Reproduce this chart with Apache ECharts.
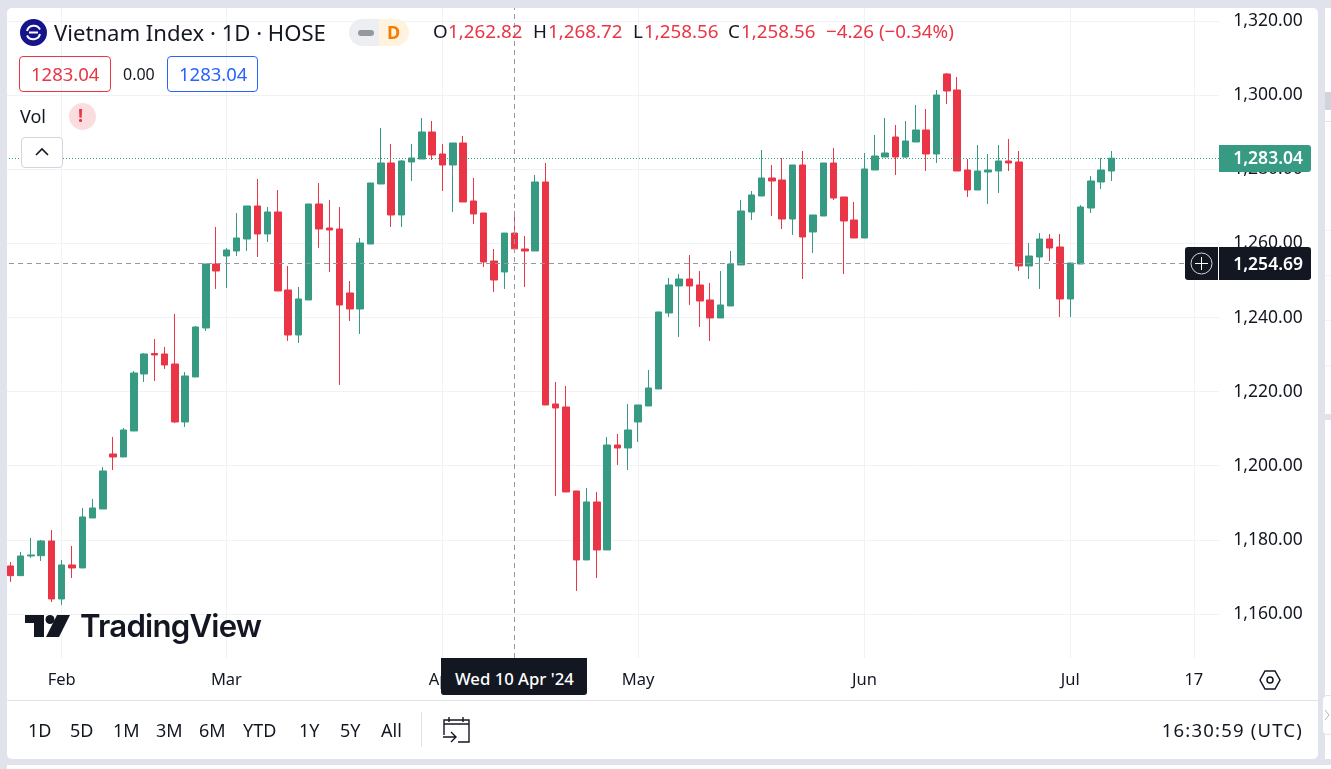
<!DOCTYPE html>
<html lang="en">
<head>
    <meta charset="UTF-8">
    <title>Vietnam Index 1D HOSE</title>
    <script src="https://cdn.jsdelivr.net/npm/echarts@6/dist/echarts.min.js"></script>
    <style>
        html, body { margin: 0; padding: 0; width: 1331px; height: 769px; overflow: hidden; background: #e0e3eb; }
        body { font-family: "Noto Sans", sans-serif; color: #131722; position: relative; }
        #panel { position: absolute; left: 7px; top: 8px; width: 1311px; height: 751px; background: #fff; border-radius: 5px; }
        #side { position: absolute; left: 1325px; top: 8px; width: 6px; height: 751px; background: #fff; }
        #bottom { position: absolute; left: 7px; top: 765px; width: 1324px; height: 4px; background: #fff; }
        #myChart { position: absolute; left: 0; top: 0; width: 1331px; height: 769px; }
        .box { position: absolute; box-sizing: border-box; }
        .t { position: absolute; white-space: nowrap; line-height: 1; }
        .red { color: #ea3546; }
    </style>
</head>
<body>
    <div id="panel"></div>
    <div id="side"></div>
    <div id="bottom"></div>
    <div class="box" style="left:1325px;top:92px;width:6px;height:18px;background:#d1d4dc"></div>
    <div class="box" style="left:1325px;top:121px;width:6px;height:1px;background:#e0e3eb"></div>
    <div class="box" style="left:1325px;top:230px;width:6px;height:1px;background:#f0f3fa"></div>
    <div class="box" style="left:1325px;top:275px;width:6px;height:1px;background:#f0f3fa"></div>
    <div class="box" style="left:1325px;top:320px;width:6px;height:1px;background:#f0f3fa"></div>
    <div class="box" style="left:1325px;top:365px;width:6px;height:1px;background:#f0f3fa"></div>
    <div class="box" style="left:1325px;top:414px;width:6px;height:6px;background:#e0e3eb"></div>

    <div id="myChart"></div>

    <!-- covers for the pane edges -->
    <div class="box" style="left:0;top:0;width:7px;height:769px;background:#e0e3eb"></div>
    <div class="box" style="left:1219px;top:8px;width:7px;height:650px;background:#fff"></div>

    <!-- legend -->
    <svg class="box" style="left:20px;top:19px" width="27" height="27" viewBox="0 0 27 27">
        <circle cx="13.5" cy="13.5" r="13.5" fill="#14148c"/>
        <path d="M7 12 A7 7 0 0 1 20 10.5 M20 15 A7 7 0 0 1 7 16.5" fill="none" stroke="#fff" stroke-width="2"/>
        <path d="M9 13.5 H18" stroke="#fff" stroke-width="2"/>
    </svg>
    <div class="t" id="title" style="left:54px;top:21px;font-size:22.1px">Vietnam Index · 1D · HOSE</div>
    <div class="box" style="left:349px;top:19px;width:30px;height:27px;background:#eceef2;border-radius:14px 0 0 14px"></div>
    <div class="box" style="left:379px;top:19px;width:30px;height:27px;background:#fff3e0;border-radius:0 14px 14px 0"></div>
    <div class="box" style="left:358px;top:30px;width:16px;height:6px;background:#9598a1;border-radius:3px"></div>
    <div class="t" style="left:387px;top:23px;font-size:18px;font-weight:700;color:#f57c00">D</div>

    <div class="t" style="left:433px;top:22px;font-size:18.8px">O</div>
    <div class="t red" style="left:448px;top:22px;font-size:18.8px">1,262.82</div>
    <div class="t" style="left:533px;top:22px;font-size:18.8px">H</div>
    <div class="t red" style="left:548px;top:22px;font-size:18.8px">1,268.72</div>
    <div class="t" style="left:633px;top:22px;font-size:18.8px">L</div>
    <div class="t red" style="left:644px;top:22px;font-size:18.8px">1,258.56</div>
    <div class="t" style="left:728px;top:22px;font-size:18.8px">C</div>
    <div class="t red" style="left:741px;top:22px;font-size:18.8px">1,258.56</div>
    <div class="t red" style="left:826px;top:22px;font-size:18.8px">−4.26 (−0.34%)</div>

    <div class="box" style="left:19px;top:56px;width:92px;height:36px;border:1px solid #ea3546;border-radius:4px"></div>
    <div class="t red" style="left:31px;top:65px;font-size:18.5px">1283.04</div>
    <div class="t" style="left:123px;top:66px;font-size:16px">0.00</div>
    <div class="box" style="left:167px;top:56px;width:91px;height:36px;border:1px solid #2962ff;border-radius:4px"></div>
    <div class="t" style="left:179px;top:65px;font-size:18.5px;color:#2962ff">1283.04</div>

    <div class="t" style="left:20px;top:107px;font-size:18px">Vol</div>
    <div class="box" style="left:69px;top:103px;width:27px;height:27px;background:#fbdde0;border-radius:50%"></div>
    <div class="t" style="left:78px;top:106px;font-size:18px;font-weight:700;color:#ea3546">!</div>
    <div class="box" style="left:21px;top:137px;width:42px;height:31px;background:#fff;border:1px solid #d1d4dc;border-radius:4px"></div>
    <svg class="box" style="left:35px;top:147px" width="14" height="10"><path d="M1 8 L7 2 L13 8" fill="none" stroke="#131722" stroke-width="1.6"/></svg>

    <!-- price tags -->
    <div class="box" style="left:1219px;top:145px;width:92px;height:27px;background:#369b82;border-radius:0 3px 3px 0"></div>
    <div class="t" style="right:28px;top:149px;font-size:17.5px;font-weight:600;color:#fff">1,283.04</div>
    <div class="box" style="left:1185px;top:247px;width:126px;height:33px;background:#131722;border-radius:3px"></div>
    <div class="box" style="left:1218px;top:247px;width:1px;height:33px;background:#fff"></div>
    <div class="t" style="right:28px;top:255px;font-size:17.5px;font-weight:600;color:#fff">1,254.69</div>
    <svg class="box" style="left:1190px;top:252px" width="23" height="23"><circle cx="11.5" cy="11.5" r="10.5" fill="none" stroke="#d1d4dc"/><path d="M5 11.5 H18 M11.5 5 V18" stroke="#fff"/></svg>

    <!-- watermark -->
    <svg class="box" style="left:24px;top:614px" width="48" height="24" viewBox="0 0 48 24">
        <path d="M1 1 H20 V23 H10 V9 H1 Z" fill="#131722"/>
        <circle cx="26" cy="5.5" r="4.5" fill="#131722"/>
        <path d="M33 1 H46 L35 23 H22 Z" fill="#131722"/>
    </svg>
    <div class="t" id="wm" style="left:80px;top:611px;font-family:Inter,sans-serif;font-size:31.2px;font-weight:600;letter-spacing:-0.8px">TradingView</div>

    <!-- time axis extras -->
    <div class="box" style="left:441px;top:658px;width:146px;height:37px;background:#131722;border-radius:0 0 3px 3px"></div>
    <div class="t" style="left:455px;top:671px;font-size:16.7px;font-weight:500;color:#fff">Wed 10 Apr '24</div>
    <svg class="box" style="left:1258px;top:669px" width="24" height="22"><path d="M2 11 L7 2 H17 L22 11 L17 20 H7 Z" fill="none" stroke="#131722" stroke-width="1.5"/><circle cx="12" cy="11" r="3" fill="none" stroke="#131722" stroke-width="1.5"/></svg>

    <!-- bottom toolbar -->
    <div class="box" style="left:7px;top:700px;width:1311px;height:1px;background:#e0e3eb"></div>
    <div class="t" style="left:28px;top:721px;font-size:18px">1D</div>
    <div class="t" style="left:70px;top:721px;font-size:18px">5D</div>
    <div class="t" style="left:113px;top:721px;font-size:18px">1M</div>
    <div class="t" style="left:156px;top:721px;font-size:18px">3M</div>
    <div class="t" style="left:199px;top:721px;font-size:18px">6M</div>
    <div class="t" style="left:243px;top:721px;font-size:18px">YTD</div>
    <div class="t" style="left:299px;top:721px;font-size:18px">1Y</div>
    <div class="t" style="left:340px;top:721px;font-size:18px">5Y</div>
    <div class="t" style="left:381px;top:721px;font-size:18px">All</div>
    <div class="box" style="left:421px;top:712px;width:1px;height:35px;background:#e0e3eb"></div>
    <svg class="box" style="left:441px;top:715px" width="30" height="30"><path d="M3 9 H28 M8 2 V7 M22 2 V7 M3 20 V5 H28 V27 H17 M2 22 H14 M10 17 L15 22 L10 27" fill="none" stroke="#131722" stroke-width="1.4"/></svg>
    <div class="t" style="right:28px;top:721px;font-size:18.5px;letter-spacing:1.2px">16:30:59 (UTC)</div>
    <div class="box" style="left:1322px;top:695px;width:12px;height:40px;background:#fff;border:1px solid #e0e3eb;border-radius:5px"></div>
    <svg class="box" style="left:1324px;top:709px" width="7" height="12"><path d="M1 1 L5 6 L1 11" fill="none" stroke="#b2b5be"/></svg>

    <script>
        // trading days, the first and the last eleven have no candle
        var dates = ['01-24','01-25','01-26','01-29','01-30','01-31',
            '02-01','02-02','02-05','02-06','02-07','02-15','02-16','02-19','02-20','02-21','02-22','02-23','02-26','02-27','02-28','02-29',
            '03-01','03-04','03-05','03-06','03-07','03-08','03-11','03-12','03-13','03-14','03-15','03-18','03-19','03-20','03-21','03-22','03-25','03-26','03-27','03-28','03-29',
            '04-01','04-02','04-03','04-04','04-05','04-08','04-09','04-10','04-11','04-12','04-15','04-16','04-17','04-19','04-22','04-23','04-24','04-25','04-26',
            '05-02','05-03','05-06','05-07','05-08','05-09','05-10','05-13','05-14','05-15','05-16','05-17','05-20','05-21','05-22','05-23','05-24','05-27','05-28','05-29','05-30','05-31',
            '06-03','06-04','06-05','06-06','06-07','06-10','06-11','06-12','06-13','06-14','06-17','06-18','06-19','06-20','06-21','06-24','06-25','06-26','06-27','06-28',
            '07-01','07-02','07-03','07-04','07-05','07-08','07-09','07-10','07-11','07-12','07-15','07-16','07-17','07-18','07-19','07-22'];

        var opens = [1172.93,1170.31,1175.63,1175.71,1179.68,1164.02,1173.2,1172.39,1185.89,1188.32,1203.17,1202.36,1209.38,1224.77,1230.3,1230.17,1227.47,1211.81,1223.96,1237.19,
            1254.47,1256.63,1257.98,1261.22,1270.13,1262.57,1268.51,1247.45,1235.3,1244.75,1270.67,1264.19,1263.92,1246.64,1242.32,1259.87,1276.07,1281.74,1267.7,1282.01,
            1282.82,1290.11,1284.17,1281.2,1287.14,1271.48,1268.24,1255.28,1252.31,1262.82,1258.52,1257.98,1276.61,1216.67,1215.86,1193.18,1174.55,1190.21,1177.25,1205.6,
            1204.79,1211.81,1216.13,1220.72,1241.24,1248.53,1250.42,1248.8,1244.75,1239.89,1243.13,1254.2,1268.51,1272.83,1277.69,1277.15,1266.62,1281.2,1263.11,1267.43,
            1281.74,1272.56,1266.35,1261.49,1279.85,1283.36,1288.76,1283.36,1287.41,1290.65,1284.17,1305.77,1301.45,1279.85,1274.45,1279.31,1279.58,1282.28,1282.01,1253.93,
            1256.36,1261.22,1259.06,1245.02,1254.47,1269.59,1276.61,1279.58];
        var closes = [1170.31,1175.63,1175.9,1179.68,1164.02,1173.2,1172.39,1186.16,1188.59,1198.58,1202.36,1209.65,1225.04,1230.17,1229.9,1227.2,1211.81,1224.23,1237.46,1254.47,
            1252.58,1258.25,1261.49,1270.13,1262.57,1268.51,1247.18,1235.3,1245.02,1270.67,1263.92,1263.65,1243.4,1242.32,1260.14,1276.34,1281.74,1267.7,1282.28,1283.09,
            1290.11,1283.9,1281.2,1287.14,1271.21,1267.97,1255.01,1250.15,1262.82,1258.56,1257.98,1276.61,1216.4,1215.59,1192.91,1174.55,1190.21,1177.25,1205.6,1204.79,
            1209.65,1216.4,1220.99,1241.51,1248.8,1250.42,1248.53,1244.48,1239.89,1243.4,1254.47,1268.78,1273.1,1277.69,1276.88,1266.62,1281.2,1261.76,1267.7,1281.74,
            1272.29,1266.08,1261.49,1280.12,1283.63,1284.44,1283.36,1287.68,1290.65,1284.17,1300.1,1301.18,1279.58,1274.45,1279.58,1279.85,1282.28,1281.74,1253.93,1256.63,
            1261.22,1258.79,1245.02,1254.74,1269.86,1276.88,1279.85,1283.04];
        var lows = [1168.61,1170.31,1175.09,1174.28,1163.21,1162.4,1169.69,1172.39,1185.89,1188.32,1198.85,1202.36,1209.38,1222.61,1222.88,1226.12,1211.54,1210.46,1223.96,1236.38,
            1247.72,1247.99,1256.63,1257.98,1256.36,1260.41,1247.18,1233.68,1233.14,1244.75,1258.79,1252.31,1221.8,1239.08,1235.57,1259.87,1276.07,1264.46,1264.46,1276.88,
            1282.82,1282.55,1274.18,1268.51,1271.21,1265.27,1253.66,1246.91,1247.72,1258.56,1248.26,1257.98,1216.4,1191.83,1192.91,1166.18,1174.55,1169.69,1177.25,1200.2,
            1198.85,1206.41,1216.13,1220.72,1240.16,1234.76,1243.4,1237.46,1233.68,1239.89,1243.13,1254.2,1266.35,1272.83,1267.43,1263.92,1262.3,1250.42,1257.44,1267.43,
            1271.75,1251.77,1261.49,1261.49,1279.85,1283.36,1278.5,1283.09,1287.41,1279.58,1281.74,1297.67,1279.58,1272.56,1274.45,1270.67,1273.64,1279.58,1252.58,1250.42,
            1247.72,1255.28,1240.16,1240.16,1254.47,1268.24,1274.72,1276.88];
        var highs = [1174.01,1176.71,1180.49,1179.95,1182.65,1174.55,1178.33,1188.59,1191.02,1199.66,1207.76,1210.19,1225.58,1230.44,1234.22,1232.06,1240.97,1225.31,1237.73,1254.47,
            1264.46,1258.79,1268.24,1270.13,1277.42,1269.86,1274.45,1253.93,1248.26,1270.67,1276.34,1271.75,1269.86,1249.88,1261.49,1276.34,1291.19,1286.87,1282.55,1286.87,
            1293.89,1293.08,1286.87,1287.14,1289.03,1277.69,1268.24,1258.52,1262.84,1268.72,1262.03,1278.5,1281.74,1222.61,1221.53,1193.18,1193.99,1192.91,1207.76,1208.57,
            1216.67,1216.4,1225.85,1241.51,1250.69,1251.77,1256.9,1252.58,1249.34,1252.58,1257.98,1271.75,1274.18,1285.25,1281.2,1283.09,1281.2,1284.98,1267.7,1281.74,
            1285.79,1272.56,1271.21,1284.44,1289.3,1293.89,1292,1293.08,1297.4,1296.32,1301.45,1306.04,1304.96,1282.82,1286.6,1284.17,1286.6,1288.22,1284.98,1260.14,
            1262.84,1262.57,1262.57,1254.74,1270.4,1278.23,1283.09,1284.98];

        var priceTicks = [1160, 1180, 1200, 1220, 1240, 1260, 1280, 1300, 1320];
        var timeTickDates = ['02-01', '03-01', '04-01', '05-02', '06-03', '07-01', '07-17'];
        var timeTickLabels = ['Feb', 'Mar', 'Apr', 'May', 'Jun', 'Jul', '17'];
        var lastPrice = 1283.04;
        var crossPrice = 1254.69;
        var crossDate = '04-10';

        var upColor = '#369b82';
        var downColor = '#ea3546';
        var gridColor = '#f1f2f5';
        var axisFont = '"Noto Sans", sans-serif';

        var candles = [['-', '-', '-', '-']];
        for (var i = 0; i < opens.length; i++) {
            candles.push([opens[i], closes[i], lows[i], highs[i]]);
        }

        function isTimeTick(index, value) {
            return timeTickDates.indexOf(value) >= 0;
        }

        var myChart = echarts.init(document.getElementById('myChart'));
        var option = {
            backgroundColor: 'transparent',
            animation: false,
            grid: { left: -0.5, top: 8, width: 1225.2, height: 650 },
            xAxis: {
                type: 'category',
                data: dates,
                boundaryGap: false,
                axisLine: { show: false },
                axisTick: { show: false },
                splitLine: { show: true, interval: isTimeTick, lineStyle: { color: gridColor, width: 1 } },
                axisLabel: {
                    interval: isTimeTick,
                    margin: 14,
                    color: '#131722',
                    fontFamily: axisFont,
                    fontSize: 16.5,
                    formatter: function(value) {
                        return timeTickLabels[timeTickDates.indexOf(value)];
                    }
                }
            },
            yAxis: {
                type: 'value',
                position: 'right',
                min: 1148.08,
                max: 1323.59,
                axisLine: { show: false },
                axisTick: { show: false, customValues: priceTicks },
                splitLine: { show: true, lineStyle: { color: gridColor, width: 1 } },
                axisLabel: {
                    customValues: priceTicks,
                    margin: 78,
                    align: 'right',
                    color: '#131722',
                    fontFamily: axisFont,
                    fontSize: 17.5,
                    formatter: function(value) {
                        return value.toLocaleString('en-US', { minimumFractionDigits: 2 });
                    }
                }
            },
            series: [{
                type: 'candlestick',
                data: candles,
                barWidth: 7,
                itemStyle: {
                    color: upColor,
                    color0: downColor,
                    borderColor: upColor,
                    borderColor0: downColor,
                    borderWidth: 1
                },
                markLine: {
                    silent: true,
                    animation: false,
                    symbol: 'none',
                    label: { show: false },
                    data: [
                        { yAxis: lastPrice, lineStyle: { color: upColor, type: [1, 2], width: 1 } },
                        { yAxis: crossPrice, lineStyle: { color: '#9598a1', type: [5, 4], width: 1 } },
                        { xAxis: crossDate, lineStyle: { color: '#9598a1', type: [5, 4], width: 1 } }
                    ]
                }
            }]
        };
        myChart.setOption(option);
    </script>
</body>
</html>
